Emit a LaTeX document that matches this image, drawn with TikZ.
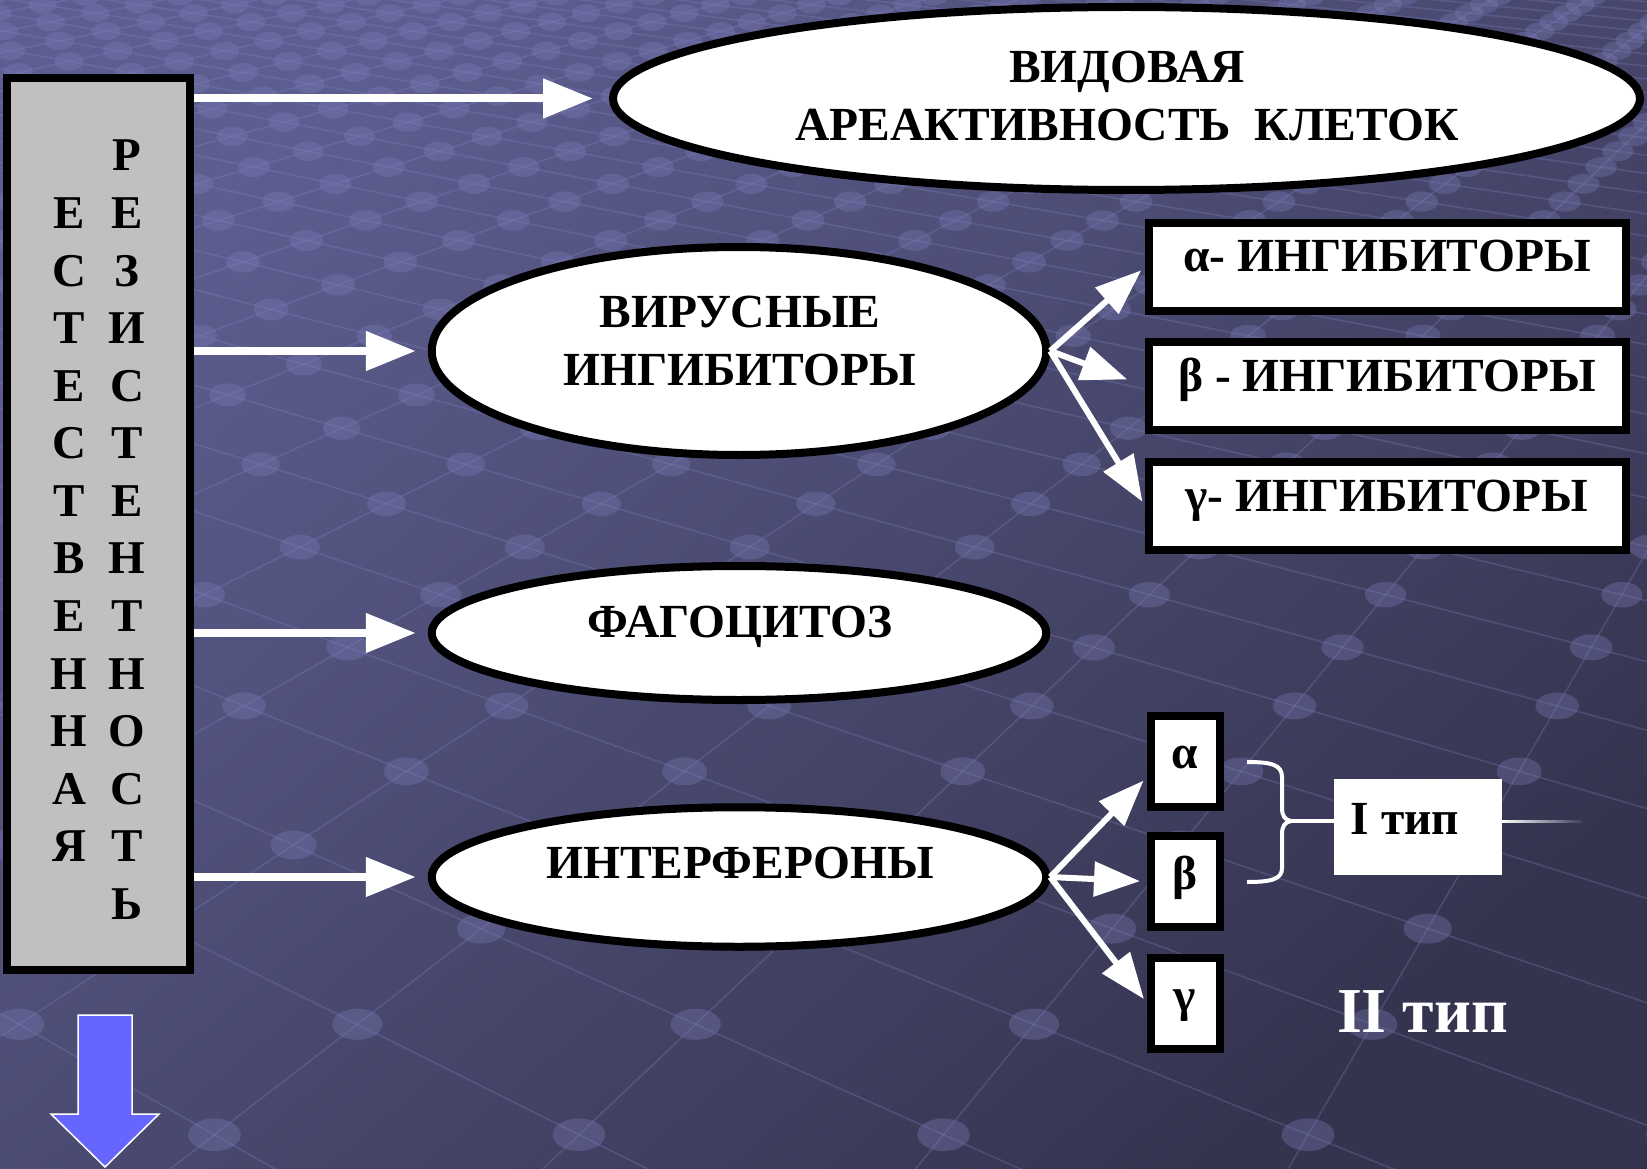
\documentclass[tikz,border=0pt]{standalone}
\usepackage{fontspec}
\setmainfont{Liberation Serif}[BoldFont={Liberation Serif Bold}]
\usetikzlibrary{shapes.geometric,arrows.meta}

\definecolor{bgtop}{HTML}{5D5E90}
\definecolor{bgbot}{HTML}{35344F}
\definecolor{gridln}{HTML}{8484C4}
\definecolor{knot}{HTML}{7C7CB8}
\definecolor{panel}{HTML}{C0C0C0}
\definecolor{downblue}{HTML}{6666FF}
\definecolor{tailend}{HTML}{3E3D5C}

\tikzset{
  ell/.style={ellipse, draw=black, line width=8pt, fill=white, inner sep=0pt},
  rbox/.style={rectangle, draw=black, line width=8pt, fill=white, inner sep=0pt},
  lbl/.style={font=\bfseries\fontsize{47.5}{58}\selectfont, inner sep=0pt, anchor=base},
  letter/.style={font=\bfseries\fontsize{47}{47}\selectfont, inner sep=0pt, anchor=base},
  bigarr/.style={draw=white, line width=8pt, -{Triangle[length=50pt,width=38pt]}},
  smallarr/.style={draw=white, line width=6pt, -{Triangle[length=46pt,width=34pt]}},
  gridl/.style={draw=gridln, line width=1.6pt, opacity=0.28},
  knotdot/.style={fill=knot, opacity=0.35},
}

\begin{document}
\begin{tikzpicture}[x=1pt,y=-1pt]
\useasboundingbox (0,0) rectangle (1647,1169);

% backdrop: diagonal gradient
\shade[top color=bgtop, bottom color=bgbot, shading angle=40] (0,0) rectangle (1647,1169);

% receding lattice of lines and knots
\begin{scope}
  \clip (0,0) rectangle (1647,1169);
  \foreach \i in {0,...,37}
    \draw[gridl] (-2500,-400) -- ({-50+380*\i},1200);
  \foreach \j in {0,...,22}
    \draw[gridl] (2200,-400) -- ({1650-380*\j},1200);
  \foreach \i in {0,...,37}{
    \foreach \j in {0,...,22}{
      \pgfmathsetmacro\tdep{47/(3.8*\i+3.8*\j+30)}
      \pgfmathsetmacro\xx{100*(-25+(24.5+3.8*\i)*\tdep)}
      \pgfmathsetmacro\yy{100*(-4+16*\tdep)}
      \pgfmathsetmacro\rr{10+17*\tdep}
      \pgfmathparse{((\xx>-40)&&(\xx<1690)&&(\yy>-30)&&(\yy<1200))?1:0}
      \ifdim\pgfmathresult pt>0.5pt
        \fill[knotdot] (\xx,\yy) ellipse [x radius=\rr, y radius=0.62*\rr];
      \fi
    }
  }
\end{scope}

% left panel with vertical lettering
\node[rbox, fill=panel, minimum width=183pt, minimum height=892pt] (lbox) at (98.5,524) {};
\foreach \ch [count=\n from 0] in {Р,Е,З,И,С,Т,Е,Н,Т,Н,О,С,Т,Ь}
  \node[letter] (r\n) at (127,{171+57.56*\n}) {\ch};
\foreach \ch [count=\n from 1] in {Е,С,Т,Е,С,Т,В,Е,Н,Н,А,Я}
  \node[letter] (l\n) at (69,{171+57.56*\n}) {\ch};

% ellipses
\node[ell, minimum width=1027pt, minimum height=183pt] (eview) at (1126.5,98.5) {};
\node[ell, minimum width=614.5pt, minimum height=208pt] (evir) at (739,351) {};
\node[ell, minimum width=614.5pt, minimum height=134pt] (efag) at (739,633) {};
\node[ell, minimum width=614.5pt, minimum height=139.5pt] (eint) at (739,877) {};

\node[lbl] (tview1) at (1127,83) {ВИДОВАЯ};
\node[lbl] (tview2) at (1127,141) {АРЕАКТИВНОСТЬ~~КЛЕТОК};
\node[lbl] (tvir1) at (740,327) {ВИРУСНЫЕ};
\node[lbl] (tvir2) at (740,385) {ИНГИБИТОРЫ};
\node[lbl] (tfag) at (740,637) {ФАГОЦИТОЗ};
\node[lbl] (tint) at (740,878) {ИНТЕРФЕРОНЫ};

% inhibitor boxes
\node[rbox, minimum width=477pt, minimum height=88pt] (ia) at (1387.5,267) {};
\node[rbox, minimum width=477pt, minimum height=88pt] (ib) at (1387.5,386) {};
\node[rbox, minimum width=477pt, minimum height=88pt] (ig) at (1387.5,506) {};
\node[lbl] (tia) at (1387,272) {α- ИНГИБИТОРЫ};
\node[lbl] (tib) at (1387,391) {β - ИНГИБИТОРЫ};
\node[lbl] (tig) at (1387,511) {γ- ИНГИБИТОРЫ};

% interferon boxes
\node[rbox, minimum width=69pt, minimum height=91pt] (sa) at (1185.5,761) {};
\node[rbox, minimum width=69pt, minimum height=91pt] (sb) at (1185.5,881.5) {};
\node[rbox, minimum width=69pt, minimum height=91pt] (sg) at (1185.5,1003) {};
\node[lbl] (tsa) at (1185,768) {α};
\node[lbl] (tsb) at (1185,889) {β};
\node[lbl] (tsg) at (1185,1011) {γ};

% type labels
\node[fill=white, minimum width=168pt, minimum height=96pt, inner sep=0pt] (itype) at (1418,827) {};
\node[lbl] (titype) at (1405,834) {I тип};
\node[lbl, font=\bfseries\fontsize{64}{64}\selectfont, text=white] (iitype) at (1422.5,1032) {II тип};

% arrows from the panel
\draw[bigarr, shorten >=16pt] (lbox.east |- eview.west) -- (eview.west);
\draw[bigarr, shorten >=12pt] (lbox.east |- evir.west) -- (evir.west);
\draw[bigarr, shorten >=12pt] (lbox.east |- efag.west) -- (efag.west);
\draw[bigarr, shorten >=12pt] (lbox.east |- eint.west) -- (eint.west);

% branching arrows
\draw[smallarr, shorten >=5pt] (evir.east) -- (ia.west);
\draw[smallarr, shorten >=19pt] (evir.east) -- (ib.west);
\draw[smallarr, shorten >=5pt] (evir.east) -- (ig.west);
\draw[smallarr, shorten >=5pt] (eint.east) -- ([shift={(0,16)}]sa.west);
\draw[smallarr, shorten >=7pt] (eint.east) -- (sb.west);
\draw[smallarr, shorten >=5pt] (eint.east) -- (sg.west);

% brace grouping alpha and beta
\coordinate (cusp) at (1291,821);
\draw[white, line width=4pt] (1247,762) .. controls (1272,762) and (1282,765) .. (1282,777)
  -- (1282,808) .. controls (1282,816) and (1285,820) .. (cusp)
  .. controls (1285,822) and (1282,826) .. (1282,834)
  -- (1282,868) .. controls (1282,879) and (1272,882) .. (1247,882);
\draw[white, line width=4pt] (cusp) -- (itype.west |- cusp);
\coordinate (tailstart) at (itype.east |- cusp);
\shade[left color=white, right color=tailend] ([shift={(0,-1)}]tailstart) rectangle ([shift={(80,1)}]tailstart);

% downward block arrow
\draw[fill=downblue, draw=white, line width=1.5pt]
  (78,1015) -- (132,1015) -- (132,1114) -- (159,1114) -- (105,1167) -- (51,1114) -- (78,1114) -- cycle;
\end{tikzpicture}
\end{document}
